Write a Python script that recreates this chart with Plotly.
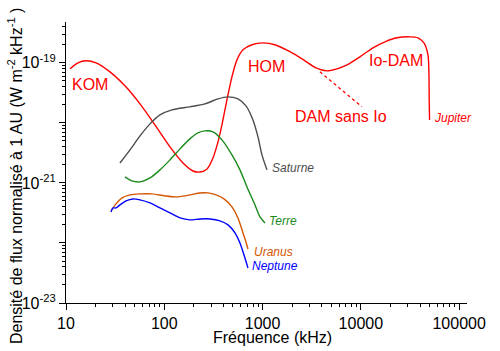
import numpy as np
import plotly.graph_objects as go

# ---- data (frequency in kHz, normalised flux density in W m^-2 kHz^-1) ----
jup_f = [10.98, 13.25, 15.98, 20.2, 28.0, 39.8, 56.6, 80.4, 114.3, 155, 196, 231, 272, 313, 352,
         386, 434, 488, 549, 632, 780, 1009, 1337, 1900, 2700, 3493, 4520, 5712, 7223, 9795,
         13280, 17590, 23290, 31580, 38080, 43850, 48170, 49300, 49600, 50000]
jup_s = [7.94e-20, 1.0e-19, 1.08e-19, 1.0e-19, 7.08e-20, 4.14e-20, 2.07e-20, 9.26e-21, 3.98e-21,
         2.15e-21, 1.58e-21, 1.52e-21, 1.71e-21, 2.61e-21, 4.82e-21, 9.26e-21, 2.42e-20, 5.85e-20,
         1.12e-19, 1.65e-19, 2.0e-19, 2.15e-19, 2.0e-19, 1.53e-19, 1.08e-19, 8.25e-20, 7.35e-20,
         7.94e-20, 9.26e-20, 1.26e-19, 1.78e-19, 2.24e-19, 2.61e-19, 2.71e-19, 2.61e-19, 2.15e-19,
         1.36e-19, 6.31e-20, 2.42e-20, 1.12e-20]

sat_f = [35.4, 44.8, 56.6, 71.6, 90.4, 119.7, 182, 259, 352, 445, 562, 678, 798, 898, 986, 1108]
sat_s = [2.15e-21, 3.55e-21, 6.07e-21, 9.62e-21, 1.36e-20, 1.65e-20, 1.85e-20, 2.07e-20, 2.51e-20,
         2.71e-20, 2.51e-20, 1.92e-20, 1.12e-20, 5.85e-21, 2.93e-21, 1.65e-21]

ear_f = [39.8, 46.9, 56.6, 71.6, 90.4, 114.3, 144.6, 182, 220, 259, 313, 386, 488, 589, 694, 837,
         941, 1058]
ear_s = [1.26e-21, 1.08e-21, 1.04e-21, 1.21e-21, 1.65e-21, 2.42e-21, 3.69e-21, 5.41e-21, 6.81e-21,
         7.35e-21, 7.08e-21, 5.21e-21, 2.93e-21, 1.65e-21, 8.58e-22, 4.30e-22, 2.71e-22, 2.15e-22]

ura_f = [28.7, 32.3, 37.2, 44.8, 56.6, 75.0, 101.6, 134.6, 182, 231, 278, 336, 405, 488, 562, 632,
         678, 710]
ura_s = [3.41e-22, 4.47e-22, 5.62e-22, 6.31e-22, 6.56e-22, 6.56e-22, 6.07e-22, 5.85e-22, 6.31e-22,
         6.81e-22, 6.81e-22, 6.31e-22, 5.41e-22, 3.98e-22, 2.61e-22, 1.47e-22, 1.04e-22, 7.94e-23]

nep_f = [28.7, 30.1, 32.3, 35.4, 40.8, 48.1, 56.6, 71.6, 90.4, 114.3, 144.6, 182, 231, 292, 369,
         445, 524, 589, 662, 710]
nep_s = [3.29e-22, 3.83e-22, 3.83e-22, 4.30e-22, 5.01e-22, 5.41e-22, 5.21e-22, 4.64e-22, 3.83e-22,
         3.16e-22, 2.61e-22, 2.42e-22, 2.51e-22, 2.51e-22, 2.33e-22, 2.0e-22, 1.47e-22, 1.0e-22,
         5.62e-23, 3.83e-23]

dam_f = [3837, 10250]
dam_s = [7.08e-20, 1.85e-20]

# labels: text, x (kHz), y (flux)
big_labels = ["KOM", "HOM", "Io-DAM", "DAM sans Io"]
big_x = [17.5, 1084, 22750, 6280]
big_y = [4.3e-20, 8.58e-20, 1.08e-19, 1.26e-20]

planet_labels = ["Jupiter", "Saturne", "Terre", "Uranus", "Neptune"]
planet_x = [52850, 1189, 1109, 780, 745]
planet_y = [1.21e-20, 1.78e-21, 2.33e-22, 7.08e-23, 4.14e-23]

x_ticks = [10, 100, 1000, 10000, 100000]
y_ticks = [1e-23, 1e-22, 1e-21, 1e-20, 1e-19]
y_ticktext = ["10<sup>-23</sup>", "", "10<sup>-21</sup>", "", "10<sup>-19</sup>"]

RED = "#ff0000"
GRAY = "#4d4d4d"
GREEN = "#1a8a1a"
ORANGE = "#d45500"
BLUE = "#0000ff"
planet_colors = [RED, GRAY, GREEN, ORANGE, BLUE]

fig = go.Figure()
for f, s, c in [(jup_f, jup_s, RED), (sat_f, sat_s, GRAY), (ear_f, ear_s, GREEN),
                (ura_f, ura_s, ORANGE), (nep_f, nep_s, BLUE)]:
    fig.add_trace(go.Scatter(x=f, y=s, mode="lines", line=dict(color=c, width=1.4, shape="spline",
                                                              smoothing=0.8),
                             hoverinfo="skip", showlegend=False))
fig.add_trace(go.Scatter(x=dam_f, y=dam_s, mode="lines",
                         line=dict(color=RED, width=1.3, dash="3px,3px"),
                         hoverinfo="skip", showlegend=False))

FONT = "Liberation Sans, Arial, sans-serif"
for t, x, y in zip(big_labels, big_x, big_y):
    fig.add_annotation(x=np.log10(x), y=np.log10(y), text=t, showarrow=False,
                       font=dict(family=FONT, size=16, color=RED), xanchor="center", yanchor="middle")
for t, x, y, c in zip(planet_labels, planet_x, planet_y, planet_colors):
    fig.add_annotation(x=np.log10(x), y=np.log10(y), text="<i>" + t + "</i>", showarrow=False,
                       font=dict(family=FONT, size=12, color=c), xanchor="left", yanchor="middle")

fig.add_annotation(xref="paper", yref="paper", x=-0.127, y=0.452, textangle=-90,
                   text="Densité de flux normalisé à 1 AU (W m<sup>-2</sup> kHz<sup>-1</sup> )",
                   showarrow=False, font=dict(family=FONT, size=16, color="#000"),
                   xanchor="center", yanchor="middle")
fig.add_annotation(xref="paper", yref="paper", x=0.514, y=-0.121, text="Fréquence (kHz)",
                   showarrow=False, font=dict(family=FONT, size=16, color="#000"),
                   xanchor="center", yanchor="middle")

fig.update_xaxes(type="log", range=[1, 5.08], tickmode="array", tickvals=x_ticks,
                 ticktext=[str(v) for v in x_ticks], ticks="outside", ticklen=6, tickcolor="#000",
                 showline=True, linecolor="#000", linewidth=1.3, showgrid=False, zeroline=False,
                 tickfont=dict(family=FONT, size=16, color="#000"),
                 minor=dict(ticks="outside", ticklen=3, tickcolor="#000", dtick="D1", showgrid=False))
fig.update_yaxes(type="log", range=[-23, -18.32], tickmode="array", tickvals=y_ticks,
                 ticktext=y_ticktext, ticks="outside", ticklen=6, tickcolor="#000",
                 showline=True, linecolor="#000", linewidth=1.3, showgrid=False, zeroline=False,
                 tickfont=dict(family=FONT, size=16, color="#000"),
                 minor=dict(ticks="outside", ticklen=3, tickcolor="#000", dtick="D1", showgrid=False))

fig.update_layout(width=500, height=351, margin=dict(l=66, r=33, t=22, b=48),
                  plot_bgcolor="white", paper_bgcolor="white", showlegend=False,
                  font=dict(family=FONT))
fig.write_html("out.html")
